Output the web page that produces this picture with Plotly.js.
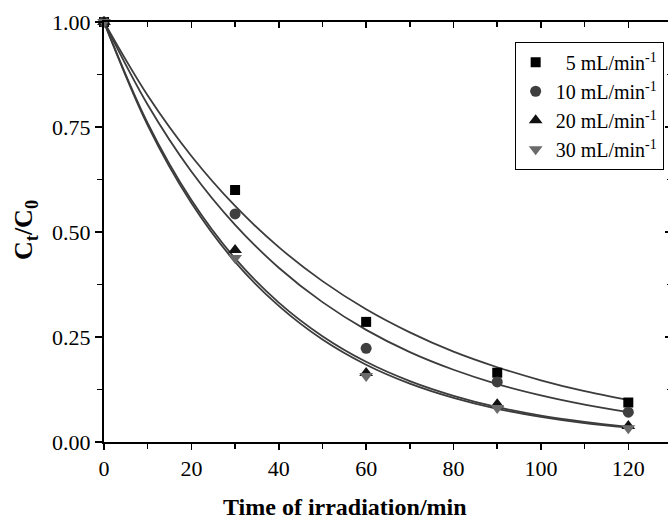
<!DOCTYPE html>
<html>
<head>
<meta charset="utf-8">
<script src="https://cdn.plot.ly/plotly-3.0.1.min.js"></script>
<style>
html,body{margin:0;padding:0;overflow:hidden;background:#fff;width:668px;height:521px;}
#chart{width:674px;height:521px;}
</style>
</head>
<body>
<div id="chart"></div>
<script>
// Measured data points
const timePts = [0, 30, 60, 90, 120];
const c5  = [1.00, 0.600, 0.286, 0.165, 0.094];
const c10 = [1.00, 0.543, 0.223, 0.143, 0.071];
const c20 = [1.00, 0.457, 0.164, 0.090, 0.038];
const c30 = [1.00, 0.438, 0.157, 0.081, 0.033];

// Fitted curves, every 10 min
const timeFit = [0, 10, 20, 30, 40, 50, 60, 70, 80, 90, 100, 110, 120];
const fit5  = [1, 0.825, 0.681, 0.562, 0.464, 0.383, 0.316, 0.261, 0.215, 0.178, 0.147, 0.121, 0.100];
const fit10 = [1, 0.803, 0.644, 0.517, 0.415, 0.333, 0.267, 0.214, 0.172, 0.138, 0.111, 0.089, 0.071];
const fit20 = [1, 0.759, 0.576, 0.437, 0.332, 0.252, 0.191, 0.145, 0.110, 0.083, 0.063, 0.048, 0.036];
const fit30 = [1, 0.754, 0.569, 0.429, 0.324, 0.244, 0.184, 0.139, 0.105, 0.079, 0.060, 0.045, 0.034];

const seriesNames = ['\u20075 mL/min<sup>-1</sup>', '10 mL/min<sup>-1</sup>', '20 mL/min<sup>-1</sup>', '30 mL/min<sup>-1</sup>'];
const xTicks = [0, 20, 40, 60, 80, 100, 120];
const yTicks = [0, 0.25, 0.5, 0.75, 1.0];
const yTickText = ['0.00', '0.25', '0.50', '0.75', '1.00'];
const xTitle = '<b>Time of irradiation/min</b>';
const yTitle = '<b>C<sub>t</sub>/C<sub>0</sub></b>';

const lineColor = '#3c3c3c';
const fits = [fit5, fit10, fit20, fit30];
const pts = [c5, c10, c20, c30];
const symbols = ['square', 'circle', 'triangle-up', 'triangle-down'];
const mColors = ['#000000', '#3f3f3f', '#111111', '#6a6a6a'];
const mSizes = [10, 11, 12, 12];

const traces = [];
fits.forEach(f => traces.push({
  x: timeFit, y: f, mode: 'lines', type: 'scatter', showlegend: false,
  line: {color: lineColor, width: 1.8, shape: 'spline', smoothing: 1}, hoverinfo: 'skip'
}));
pts.forEach((p, i) => traces.push({
  x: timePts, y: p, mode: 'markers', type: 'scatter', name: seriesNames[i],
  cliponaxis: false,
  marker: {symbol: symbols[i], color: mColors[i], size: mSizes[i], line: {width: 0}}
}));
// invisible trace to activate mirror axes
traces.push({x: [0], y: [0], xaxis: 'x2', yaxis: 'y2', mode: 'markers', showlegend: false,
  marker: {opacity: 0}, hoverinfo: 'skip'});

const FAM = 'Liberation Serif';
function F(size) { return {family: FAM, size: size, color: '#000'}; }

const layout = {
  width: 674, height: 521,
  margin: {l: 104, r: 2, t: 22, b: 79},
  paper_bgcolor: '#fff', plot_bgcolor: '#fff',
  font: F(22),
  showlegend: true,
  legend: {
    x: 0.723, y: 0.953, xanchor: 'left', yanchor: 'top',
    bgcolor: '#fff', bordercolor: '#000', borderwidth: 1,
    font: F(20),
    tracegroupgap: 0, itemwidth: 30
  },
  annotations: [
    {text: xTitle, xref: 'paper', yref: 'paper', x: 0.424, y: -0.155, xanchor: 'center', yanchor: 'middle',
     showarrow: false, font: F(24)},
    {text: yTitle, xref: 'paper', yref: 'paper', x: -0.139, y: 0.505, xanchor: 'center', yanchor: 'middle',
     textangle: -90, showarrow: false, font: F(26)}
  ],
  xaxis: {
    range: [0, 130], tickvals: xTicks, ticktext: xTicks.map(String),
    ticks: 'outside', ticklen: 6, tickwidth: 1.5, tickcolor: '#000',
    minor: {dtick: 10, tick0: 0, ticks: 'outside', ticklen: 5, tickwidth: 1.5, tickcolor: '#000'},
    showline: true, linecolor: '#000', linewidth: 2, showgrid: false, zeroline: false,
    tickfont: F(22)
  },
  yaxis: {
    range: [0, 1], tickvals: yTicks, ticktext: yTickText,
    ticks: 'outside', ticklen: 7, tickwidth: 1.5, tickcolor: '#000',
    minor: {dtick: 0.125, tick0: 0, ticks: 'outside', ticklen: 5, tickwidth: 1.5, tickcolor: '#000'},
    showline: true, linecolor: '#000', linewidth: 2, showgrid: false, zeroline: false,
    tickfont: F(22)
  },
  xaxis2: {
    overlaying: 'x', side: 'top', anchor: 'y', range: [0, 130], tickvals: xTicks,
    showticklabels: false, ticks: 'inside', ticklen: 6, tickwidth: 1.5, tickcolor: '#000',
    minor: {dtick: 10, tick0: 0, ticks: 'inside', ticklen: 5, tickwidth: 1.5, tickcolor: '#000'},
    showline: true, linecolor: '#000', linewidth: 2, showgrid: false, zeroline: false
  },
  yaxis2: {
    overlaying: 'y', side: 'right', anchor: 'x', range: [0, 1], tickvals: yTicks,
    showticklabels: false, ticks: 'inside', ticklen: 7, tickwidth: 1.5, tickcolor: '#000',
    minor: {dtick: 0.125, tick0: 0, ticks: 'inside', ticklen: 5, tickwidth: 1.5, tickcolor: '#000'},
    showline: true, linecolor: '#000', linewidth: 2, showgrid: false, zeroline: false
  }
};

Plotly.newPlot('chart', traces, layout, {displayModeBar: false, staticPlot: true});
</script>
</body>
</html>
